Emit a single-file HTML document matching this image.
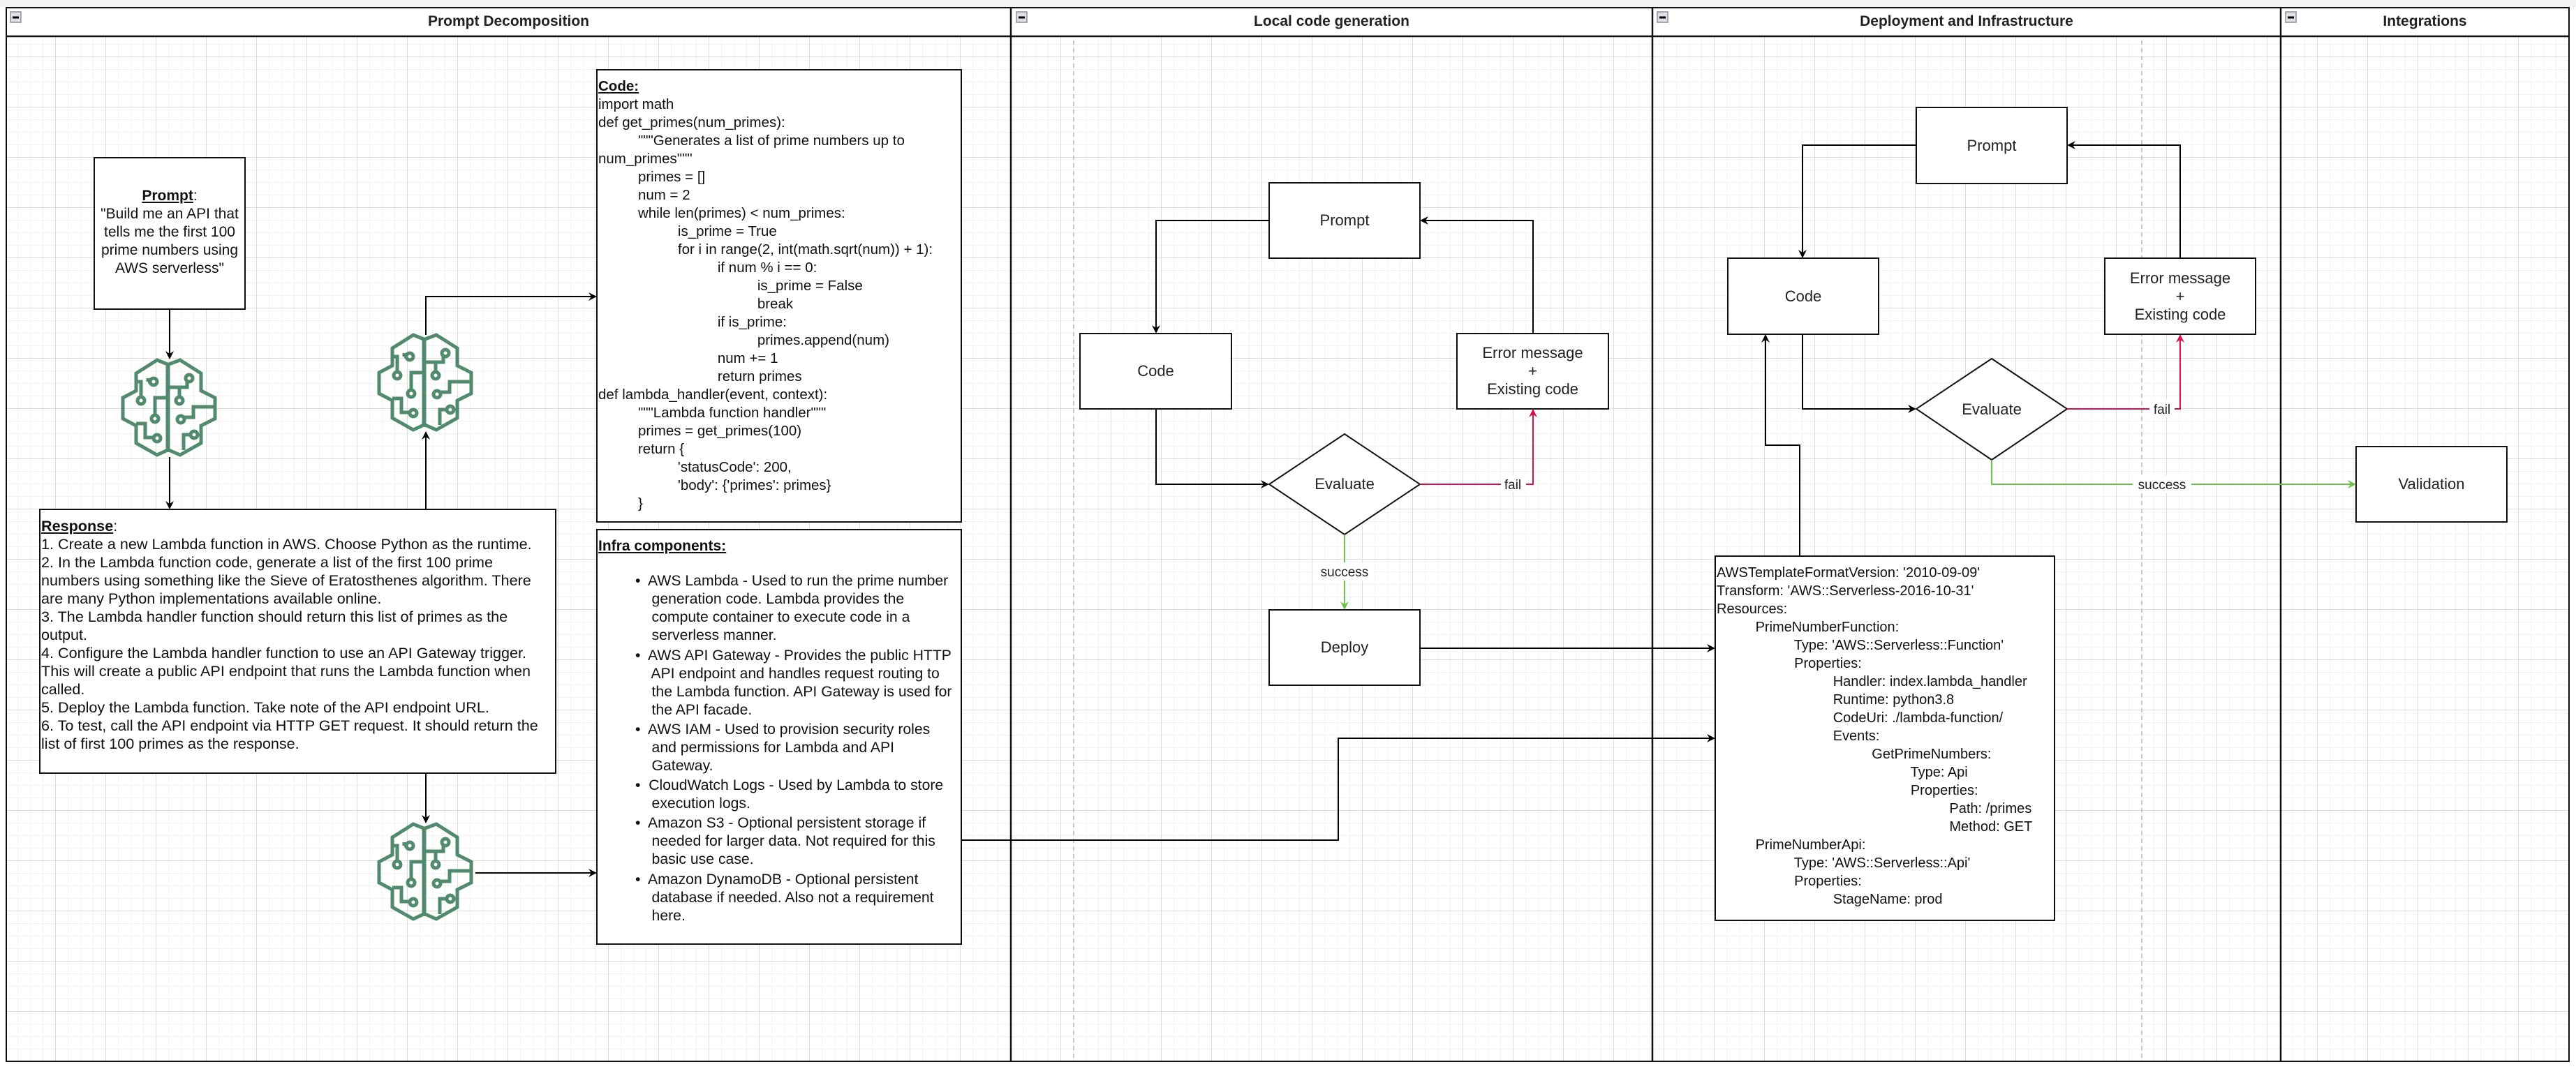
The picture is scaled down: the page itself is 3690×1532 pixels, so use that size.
<!DOCTYPE html>
<html><head><meta charset="utf-8"><style>
html,body{margin:0;padding:0;background:#fff}
body{width:3690px;height:1532px;position:relative;overflow:hidden;font-family:"Liberation Sans",Arial,sans-serif;color:#111}
.t{position:absolute;font-size:20px;line-height:26px;white-space:pre;}
.c{position:absolute;display:flex;align-items:center;justify-content:center;text-align:center;font-size:22px;line-height:30px;color:#222}
.h{position:absolute;font-size:21px;font-weight:bold;top:16px;line-height:30px;text-align:center;color:#222}
</style></head><body>
<svg width="3690" height="1532" style="position:absolute;left:0;top:0">
<defs>
<pattern id="mi" width="18" height="18" patternUnits="userSpaceOnUse" x="7" y="9"><path d="M0 0H18M0 0V18" stroke="#efefef" stroke-width="1.5" fill="none"/></pattern>
<pattern id="ma" width="72" height="72" patternUnits="userSpaceOnUse" x="7" y="9"><path d="M0 0H72M0 0V72" stroke="#d4d4d4" stroke-width="1.5" fill="none"/></pattern>
<marker id="ab" markerWidth="12" markerHeight="12" refX="10" refY="6" orient="auto" markerUnits="userSpaceOnUse"><path d="M0 0L12 6L0 12L4 6Z" fill="#000"/></marker>
<marker id="ar" markerWidth="12" markerHeight="12" refX="10" refY="6" orient="auto" markerUnits="userSpaceOnUse"><path d="M0 0L12 6L0 12L4 6Z" fill="#d80f4a"/></marker>
<marker id="ag" markerWidth="12" markerHeight="12" refX="10" refY="6" orient="auto" markerUnits="userSpaceOnUse"><path d="M0 0L12 6L0 12L4 6Z" fill="#6cc24a"/></marker>
<g id="brain" fill="none" stroke="#528a6e" stroke-width="5" stroke-linejoin="miter">
<path d="M80 22L65 16L35 35L35 60L16 70L16 100L35 110L35 135L65 152L80 145Z"/>
<path d="M82 22L98 16L128 35L128 60L148 70L148 100L128 110L128 135L98 152L82 145"/>
<path d="M81 22V148"/>
<path d="M35 47H42V70"/><circle cx="42" cy="74" r="5"/>
<path d="M52 42V47"/><circle cx="60" cy="47" r="5"/><path d="M52 47H55"/>
<path d="M80 70H62V95"/><circle cx="62" cy="100" r="5"/>
<path d="M35 107H48V127H60"/><circle cx="65" cy="128" r="5"/>
<path d="M82 55H108V47"/><circle cx="111" cy="42" r="5"/>
<path d="M97 55V69"/><circle cx="97" cy="74" r="5"/>
<path d="M148 83H117V98H104"/><circle cx="99" cy="101" r="5"/>
<path d="M103 145V123H113"/><circle cx="118" cy="123" r="5"/>
</g>
</defs>
<rect x="0" y="0" width="3690" height="10" fill="#f3f3f3"/>
<rect x="9" y="52" width="3671" height="1469" fill="url(#mi)"/>
<rect x="9" y="52" width="3671" height="1469" fill="url(#ma)"/>
<rect x="9" y="11" width="3671" height="1510" fill="none" stroke="#111" stroke-width="2"/>
<line x1="9" y1="52" x2="3680" y2="52" stroke="#111" stroke-width="2.5"/>
<g stroke="#111" stroke-width="2.5"><line x1="1448" y1="11" x2="1448" y2="1521"/><line x1="2367" y1="11" x2="2367" y2="1521"/><line x1="3267" y1="11" x2="3267" y2="1521"/></g>
<g stroke="#bbb" stroke-width="1.5" stroke-dasharray="6 5"><line x1="1538" y1="58" x2="1538" y2="1521"/><line x1="3068" y1="58" x2="3068" y2="1521"/></g>
<g fill="#e0e0e4" stroke="#8a8f9c" stroke-width="1.5">
<rect x="15" y="17" width="15" height="15"/><rect x="1456" y="17" width="15" height="15"/><rect x="2374" y="17" width="15" height="15"/><rect x="3274" y="17" width="15" height="15"/></g>
<g stroke="#000" stroke-width="3"><line x1="18" y1="25" x2="27" y2="25"/><line x1="1459" y1="25" x2="1468" y2="25"/><line x1="2377" y1="25" x2="2386" y2="25"/><line x1="3277" y1="25" x2="3286" y2="25"/></g>
<g fill="#fff" stroke="#111" stroke-width="2">
<rect x="135" y="226" width="216" height="217"/>
<rect x="855" y="100" width="522" height="648"/>
<rect x="57" y="730" width="739" height="378"/>
<rect x="855" y="759" width="522" height="594"/>
<rect x="1818" y="262" width="216" height="108"/>
<rect x="1547" y="478" width="217" height="108"/>
<rect x="2087" y="478" width="217" height="108"/>
<path d="M1926 622L2034 694L1926 766L1818 694Z"/>
<rect x="1818" y="874" width="216" height="108"/>
<rect x="2745" y="154" width="216" height="109"/>
<rect x="2475" y="370" width="216" height="109"/>
<rect x="3015" y="370" width="216" height="109"/>
<path d="M2853 514L2961 586L2853 659L2745 586Z"/>
<rect x="3375" y="640" width="216" height="108"/>
<rect x="2457" y="797" width="486" height="522"/>
</g>
<use href="#brain" transform="translate(160,500)"/>
<use href="#brain" transform="translate(527,464)"/>
<use href="#brain" transform="translate(527,1165)"/>
<g fill="none" stroke="#000" stroke-width="2">
<path d="M243 443V513" marker-end="url(#ab)"/>
<path d="M243 655V728" marker-end="url(#ab)"/>
<path d="M610 730V620" marker-end="url(#ab)"/>
<path d="M610 480V425H853" marker-end="url(#ab)"/>
<path d="M610 1108V1178" marker-end="url(#ab)"/>
<path d="M681 1251H853" marker-end="url(#ab)"/>
<path d="M1377 1204H1917V1058H2455" marker-end="url(#ab)"/>
<path d="M2034 929H2455" marker-end="url(#ab)"/>
<path d="M1818 316H1656V476" marker-end="url(#ab)"/>
<path d="M2196 478V316H2036" marker-end="url(#ab)"/>
<path d="M1656 586V694H1816" marker-end="url(#ab)"/>
<path d="M2745 208H2582V368" marker-end="url(#ab)"/>
<path d="M3123 370V208H2963" marker-end="url(#ab)"/>
<path d="M2582 479V586H2743" marker-end="url(#ab)"/>
<path d="M2578 797V638H2529V481" marker-end="url(#ab)"/>
</g>
<g fill="none" stroke="#d80f4a" stroke-width="2">
<path d="M2034 694H2196V588" marker-end="url(#ar)"/>
<path d="M2961 586H3123V481" marker-end="url(#ar)"/>
</g>
<g fill="none" stroke="#6cc24a" stroke-width="2">
<path d="M1926 766V872" marker-end="url(#ag)"/>
<path d="M2853 659V694H3373" marker-end="url(#ag)"/>
</g>
<g font-family="Liberation Sans, Arial, sans-serif" font-size="19" fill="#222" text-anchor="middle">
<rect x="2150" y="681" width="36" height="24" fill="#fff"/><text x="2167" y="701">fail</text>
<rect x="1884" y="806" width="84" height="26" fill="#fff"/><text x="1926" y="826">success</text>
<rect x="3079" y="573" width="36" height="24" fill="#fff"/><text x="3097" y="593">fail</text>
<rect x="3055" y="681" width="84" height="26" fill="#fff"/><text x="3097" y="701">success</text>
</g>
</svg>
<div class="h" style="left:9px;width:1439px">Prompt Decomposition</div>
<div class="h" style="left:1448px;width:919px">Local code generation</div>
<div class="h" style="left:2367px;width:900px">Deployment and Infrastructure</div>
<div class="h" style="left:3267px;width:413px">Integrations</div>

<div class="t" style="left:135px;top:268px;width:216px;text-align:center;white-space:normal;font-size:21px"><b><u>Prompt</u></b>:<br>"Build me an API that tells me the first 100 prime numbers using AWS serverless"</div>

<div class="t" style="left:857px;top:111px;font-size:20.5px"><b><u>Code:</u></b>
import math
def get_primes(num_primes):
          """Generates a list of prime numbers up to
num_primes"""
          primes = []
          num = 2
          while len(primes) &lt; num_primes:
                    is_prime = True
                    for i in range(2, int(math.sqrt(num)) + 1):
                              if num % i == 0:
                                        is_prime = False
                                        break
                              if is_prime:
                                        primes.append(num)
                              num += 1
                              return primes
def lambda_handler(event, context):
          """Lambda function handler"""
          primes = get_primes(100)
          return {
                    'statusCode': 200,
                    'body': {'primes': primes}
          }</div>

<div class="t" style="left:59px;top:741px;font-size:21.6px"><b><u>Response</u></b>:
1. Create a new Lambda function in AWS. Choose Python as the runtime.
2. In the Lambda function code, generate a list of the first 100 prime
numbers using something like the Sieve of Eratosthenes algorithm. There
are many Python implementations available online.
3. The Lambda handler function should return this list of primes as the
output.
4. Configure the Lambda handler function to use an API Gateway trigger.
This will create a public API endpoint that runs the Lambda function when
called.
5. Deploy the Lambda function. Take note of the API endpoint URL.
6. To test, call the API endpoint via HTTP GET request. It should return the
list of first 100 primes as the response.</div>

<div class="t" style="left:857px;top:770px;font-size:21px"><b><u>Infra components:</u></b></div>
<div class="t" style="left:910px;top:820px;font-size:21.2px">•  AWS Lambda - Used to run the prime number
    generation code. Lambda provides the
    compute container to execute code in a
    serverless manner.</div>
<div class="t" style="left:910px;top:927px;font-size:21.2px">•  AWS API Gateway - Provides the public HTTP
    API endpoint and handles request routing to
    the Lambda function. API Gateway is used for
    the API facade.</div>
<div class="t" style="left:910px;top:1033px;font-size:21.2px">•  AWS IAM - Used to provision security roles
    and permissions for Lambda and API
    Gateway.</div>
<div class="t" style="left:910px;top:1113px;font-size:21.2px">•  CloudWatch Logs - Used by Lambda to store
    execution logs.</div>
<div class="t" style="left:910px;top:1167px;font-size:21.2px">•  Amazon S3 - Optional persistent storage if
    needed for larger data. Not required for this
    basic use case.</div>
<div class="t" style="left:910px;top:1248px;font-size:21.2px">•  Amazon DynamoDB - Optional persistent
    database if needed. Also not a requirement
    here.</div>

<div class="t" style="left:2459px;top:808px">AWSTemplateFormatVersion: '2010-09-09'
Transform: 'AWS::Serverless-2016-10-31'
Resources:
          PrimeNumberFunction:
                    Type: 'AWS::Serverless::Function'
                    Properties:
                              Handler: index.lambda_handler
                              Runtime: python3.8
                              CodeUri: ./lambda-function/
                              Events:
                                        GetPrimeNumbers:
                                                  Type: Api
                                                  Properties:
                                                            Path: /primes
                                                            Method: GET
          PrimeNumberApi:
                    Type: 'AWS::Serverless::Api'
                    Properties:
                              StageName: prod</div>

<div class="c" style="left:1818px;top:262px;width:216px;height:108px">Prompt</div>
<div class="c" style="left:1547px;top:478px;width:217px;height:108px">Code</div>
<div class="c" style="left:2087px;top:478px;width:217px;height:108px;line-height:26px">Error message<br>+<br>Existing code</div>
<div class="c" style="left:1818px;top:622px;width:216px;height:144px">Evaluate</div>
<div class="c" style="left:1818px;top:874px;width:216px;height:108px">Deploy</div>
<div class="c" style="left:2745px;top:154px;width:216px;height:109px">Prompt</div>
<div class="c" style="left:2475px;top:370px;width:216px;height:109px">Code</div>
<div class="c" style="left:3015px;top:370px;width:216px;height:109px;line-height:26px">Error message<br>+<br>Existing code</div>
<div class="c" style="left:2745px;top:514px;width:216px;height:145px">Evaluate</div>
<div class="c" style="left:3375px;top:640px;width:216px;height:108px">Validation</div>
</body></html>
